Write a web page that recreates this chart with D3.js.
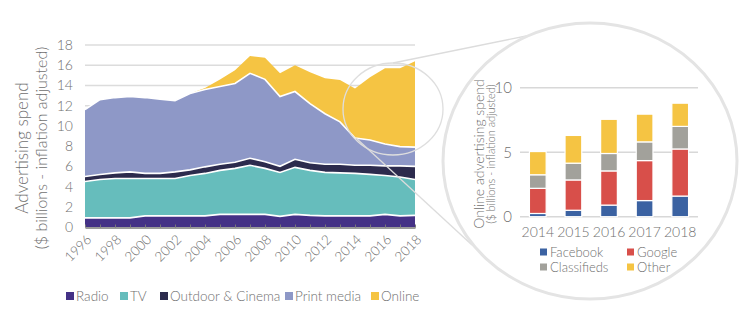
<!DOCTYPE html>
<html><head><meta charset="utf-8">
<script src="https://cdn.jsdelivr.net/npm/d3@7"></script>
<style>
body{margin:0;background:#fff;}
text{font-family:Lato,"Open Sans",sans-serif;font-weight:300;fill:#6f6f6f;}
</style></head><body>
<svg id="c" width="754" height="325"></svg>
<script>
// ---------- main chart data ($ billions) ----------
const years   = [1996,1997,1998,1999,2000,2001,2002,2003,2004,2005,2006,2007,2008,2009,2010,2011,2012,2013,2014,2015,2016,2017,2018];
const radio   = [0.9,0.9,0.9,0.9,1.1,1.1,1.1,1.1,1.1,1.25,1.25,1.25,1.25,1.05,1.25,1.15,1.1,1.1,1.1,1.1,1.25,1.1,1.15];
const tv      = [3.6,3.8,3.9,3.9,3.7,3.7,3.7,4.0,4.2,4.35,4.55,4.85,4.55,4.35,4.65,4.45,4.3,4.25,4.2,4.1,3.85,3.85,3.55];
const outdoor = [0.5,0.5,0.55,0.65,0.5,0.5,0.65,0.55,0.65,0.6,0.6,0.7,0.65,0.6,0.8,0.75,0.8,0.85,0.8,0.9,0.95,1.1,1.3];
const print   = [6.6,7.4,7.45,7.45,7.5,7.35,7.05,7.55,7.65,7.7,7.8,8.4,8.15,6.9,6.7,5.85,5.0,4.2,2.7,2.5,2.15,1.9,1.9];
const online  = [0,0,0,0,0,0,0,0,0.15,0.7,1.3,1.7,2.15,2.3,2.6,3.1,3.5,4.15,4.9,6.2,7.5,7.75,8.5];
const seriesNames  = ["Radio","TV","Outdoor & Cinema","Print media","Online"];
const seriesColors = ["#443186","#66bdbc","#2c2b4d","#8e98c7","#f5c443"];
const yTicksMain = [0,2,4,6,8,10,12,14,16,18];
const xTickYears = [1996,1998,2000,2002,2004,2006,2008,2010,2012,2014,2016,2018];

// ---------- inset data ----------
const insetYears  = ["2014","2015","2016","2017","2018"];
const facebook    = [0.25,0.5,0.9,1.25,1.6];
const google      = [1.95,2.35,2.65,3.1,3.65];
const classifieds = [1.05,1.3,1.35,1.45,1.75];
const other       = [1.8,2.15,2.65,2.15,1.8];
const insetNames  = ["Facebook","Google","Classifieds","Other"];
const insetColors = ["#3b62a2","#d84f4a","#a2a19b","#f5c443"];
const insetTicks  = [0,5,10];

const svg = d3.select("#c");

// ===== main area chart =====
const x = d3.scaleLinear().domain([1996,2018]).range([85,415]);
const y = d3.scaleLinear().domain([0,18]).range([227,45]);

svg.append("g").selectAll("line").data(yTicksMain).join("line")
  .attr("x1",x(1996)).attr("x2",x(2018))
  .attr("y1",d=>y(d)).attr("y2",d=>y(d))
  .attr("stroke","#dcdcdc").attr("stroke-width",1.5);

const rows = years.map((yr,i)=>({year:yr, Radio:radio[i], TV:tv[i], "Outdoor & Cinema":outdoor[i], "Print media":print[i], Online:online[i]}));
const stack = d3.stack().keys(seriesNames)(rows);

const area = d3.area().x(d=>x(d.data.year)).y0(d=>y(d[0])).y1(d=>y(d[1]));
svg.append("g").selectAll("path").data(stack).join("path")
  .attr("d",area).attr("fill",(d,i)=>seriesColors[i]);

const topLine = d3.line().x(d=>x(d.data.year)).y(d=>y(d[1]));
svg.append("g").selectAll("path").data(stack.slice(0,4)).join("path")
  .attr("d",topLine).attr("fill","none").attr("stroke","#fff").attr("stroke-width",1.6);

// bottom axis
const xAxis = d3.axisBottom(x).tickValues(years).tickSizeInner(-3).tickSizeOuter(0).tickFormat("");
const gx = svg.append("g").attr("transform","translate(0,227.5)").call(xAxis);
gx.select(".domain").attr("stroke","#9a9a9a").attr("stroke-width",2);
gx.selectAll(".tick line").attr("stroke","#777").attr("stroke-width",1);

svg.append("g").selectAll("text").data(xTickYears).join("text")
  .attr("transform",d=>`translate(${x(d)+4},237) rotate(-45)`)
  .attr("text-anchor","end").attr("dy","0.35em").attr("fill","#8a8a8a")
  .style("font-size","13.5px").text(d=>d);

// y axis labels
const yAxis = d3.axisLeft(y).tickValues(yTicksMain).tickSize(0).tickPadding(12);
const gy = svg.append("g").attr("transform",`translate(${x(1996)},0)`).call(yAxis);
gy.select(".domain").remove();
gy.selectAll("text").style("font-size","14px").style("font-family","Lato,'Open Sans',sans-serif").attr("fill","#7a7a7a");

// y title
svg.append("text").attr("transform","translate(28,148) rotate(-90)")
  .attr("text-anchor","middle").style("font-size","17px").attr("fill","#7d7d7d").text("Advertising spend");
svg.append("text").attr("transform","translate(47,148) rotate(-90)")
  .attr("text-anchor","middle").style("font-size","16px").attr("fill","#7d7d7d").text("($ billions - inflation adjusted)");

// legend
const legX = [66,120,160,285,371];
const lg = svg.append("g").selectAll("g").data(seriesNames).join("g")
  .attr("transform",(d,i)=>`translate(${legX[i]},296)`);
lg.append("rect").attr("x",0).attr("y",-4).attr("width",8).attr("height",8).attr("fill",(d,i)=>seriesColors[i]);
lg.append("text").attr("x",10).attr("dy","0.35em").style("font-size","13.5px").attr("fill","#555").text(d=>d);

// ===== zoom connectors =====
svg.append("ellipse").attr("cx",393).attr("cy",109).attr("rx",50).attr("ry",46)
  .attr("fill","none").attr("stroke","#dedede").attr("stroke-width",1.3);
svg.append("line").attr("x1",393).attr("y1",63).attr("x2",536).attr("y2",34)
  .attr("stroke","#dcdcdc").attr("stroke-width",1.3);
svg.append("line").attr("x1",356).attr("y1",138).attr("x2",472).attr("y2",245)
  .attr("stroke","#dcdcdc").attr("stroke-width",1.3);
svg.append("ellipse").attr("cx",590).attr("cy",161).attr("rx",147).attr("ry",138)
  .attr("fill","#fff").attr("stroke","#e4e4e4").attr("stroke-width",3);

// ===== inset bar chart =====
const bx = d3.scaleBand().domain(insetYears).range([520,698]).paddingInner(0.53).paddingOuter(0.265);
const by = d3.scaleLinear().domain([0,10]).range([216.7,87.7]);

svg.append("g").selectAll("line").data(insetTicks).join("line")
  .attr("x1",520).attr("x2",698).attr("y1",d=>by(d)).attr("y2",d=>by(d))
  .attr("stroke","#d8d8d8").attr("stroke-width",1.5);

const irows = insetYears.map((yr,i)=>({year:yr, Facebook:facebook[i], Google:google[i], Classifieds:classifieds[i], Other:other[i]}));
const istack = d3.stack().keys(insetNames)(irows);
svg.append("g").selectAll("g").data(istack).join("g").attr("fill",(d,i)=>insetColors[i])
  .selectAll("rect").data(d=>d).join("rect")
  .attr("x",d=>bx(d.data.year)).attr("width",bx.bandwidth())
  .attr("y",d=>by(d[1])).attr("height",d=>by(d[0])-by(d[1]))
  .attr("stroke","#fff").attr("stroke-width",1.2);

const iyAxis = d3.axisLeft(by).tickValues(insetTicks).tickSize(0).tickPadding(8);
const giy = svg.append("g").attr("transform","translate(520,0)").call(iyAxis);
giy.select(".domain").remove();
giy.selectAll("text").style("font-size","15px").style("font-family","Lato,'Open Sans',sans-serif").attr("fill","#7a7a7a");

const ixAxis = d3.axisBottom(bx).tickSize(0).tickPadding(10);
const gix = svg.append("g").attr("transform","translate(0,217)").call(ixAxis);
gix.select(".domain").remove();
gix.selectAll("text").style("font-size","14px").style("font-family","Lato,'Open Sans',sans-serif").attr("fill","#5a5a5a");

svg.append("text").attr("transform","translate(484,154) rotate(-90)")
  .attr("text-anchor","middle").style("font-size","14px").attr("fill","#7d7d7d").text("Online advertising spend");
svg.append("text").attr("transform","translate(495,154) rotate(-90)")
  .attr("text-anchor","middle").style("font-size","11px").attr("fill","#7d7d7d").text("($ billions - inflation adjusted)");

const ilPos = [[540,252],[627,252],[540,267],[627,267]];
const il = svg.append("g").selectAll("g").data(insetNames).join("g")
  .attr("transform",(d,i)=>`translate(${ilPos[i][0]},${ilPos[i][1]})`);
il.append("rect").attr("x",0).attr("y",-3.5).attr("width",7).attr("height",7).attr("fill",(d,i)=>insetColors[i]);
il.append("text").attr("x",10).attr("dy","0.35em").style("font-size","13px").attr("fill","#555").text(d=>d);
</script>
</body></html>
